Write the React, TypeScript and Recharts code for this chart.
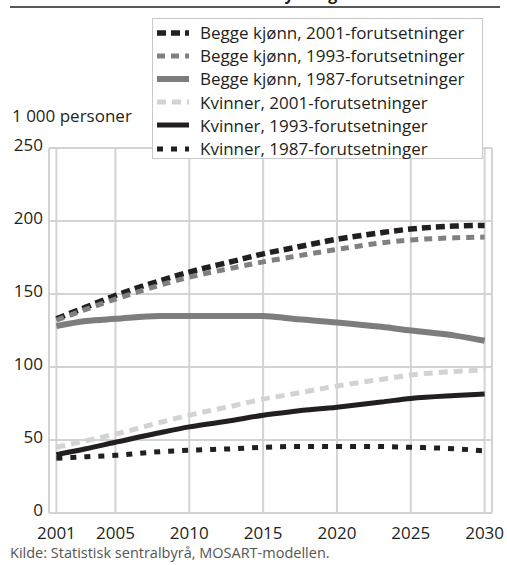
import React from "react";
import { LineChart, Line, XAxis, YAxis, CartesianGrid } from "recharts";

const years = [2001, 2003, 2005, 2008, 2010, 2013, 2015, 2017, 2020, 2023, 2025, 2028, 2030];
const begge2001 = [133, 141, 149, 159, 165, 172.5, 177.5, 181.5, 187.5, 192, 194.5, 196.5, 197];
const begge1993 = [132, 139.5, 146.5, 156, 161.5, 168, 172, 175.5, 180.5, 185, 187, 188.5, 189];
const begge1987 = [128, 131.5, 133, 135, 135, 135, 135, 133, 130.5, 127.5, 125, 121.5, 118];
const kvinner2001 = [45, 49.5, 54, 62, 67, 73.5, 78, 81.5, 87, 91.5, 94.5, 97, 98];
const kvinner1993 = [40, 44, 48.5, 55, 59, 63.5, 67, 69.5, 72.5, 76, 78.5, 80.5, 81.5];
const kvinner1987 = [37.5, 38.5, 39.5, 42, 43, 44, 45, 45.5, 45.5, 45.5, 45, 44, 42.5];

const xTicks = [2001, 2005, 2010, 2015, 2020, 2025, 2030];
const yTicks = [0, 50, 100, 150, 200, 250];

const seriesNames = [
  "Begge kjønn, 2001-forutsetninger",
  "Begge kjønn, 1993-forutsetninger",
  "Begge kjønn, 1987-forutsetninger",
  "Kvinner, 2001-forutsetninger",
  "Kvinner, 1993-forutsetninger",
  "Kvinner, 1987-forutsetninger",
];
const seriesValues = [begge2001, begge1993, begge1987, kvinner2001, kvinner1993, kvinner1987];

const styles = [
  { stroke: "#231f20", width: 5.5, dash: "9 5" },
  { stroke: "#808082", width: 5, dash: "8 6" },
  { stroke: "#7d7d80", width: 6, dash: undefined },
  { stroke: "#d3d3d5", width: 5, dash: "9 6" },
  { stroke: "#231f20", width: 5, dash: undefined },
  { stroke: "#231f20", width: 5, dash: "6 8" },
];

const keys = ["s0", "s1", "s2", "s3", "s4", "s5"];
const data = years.map((y, i) => {
  const row: any = { year: y };
  keys.forEach((k, j) => (row[k] = seriesValues[j][i]));
  return row;
});

const FONT = "'Open Sans', 'Noto Sans', sans-serif";
const TEXT = "#231f20";
const GRID = "#d2d3d5";

export default function App() {
  return (
    <div style={{ position: "absolute", left: 0, top: 0, width: 507, height: 565, background: "#fff", fontFamily: FONT, overflow: "hidden" }}>
      <svg width={507} height={20} style={{ position: "absolute", left: 0, top: 0 }}>
        <text x={253} y={0} textAnchor="middle" fontWeight="bold" fontSize={16} fill={TEXT} fontFamily={FONT}>
          Yrkesaktive etter yrkesgrad
        </text>
        <line x1={10} x2={500} y1={7} y2={7} stroke={TEXT} strokeWidth={1.5} />
      </svg>
      <div style={{ position: "absolute", left: 12, top: 105, fontSize: 17, color: TEXT, lineHeight: "22px" }}>1 000 personer</div>
      <div style={{ position: "absolute", left: 0, top: 0 }}>
        <LineChart width={507} height={565} data={data} margin={{ top: 148, right: 15, bottom: 22, left: 0 }}>
          <CartesianGrid stroke={GRID} strokeWidth={2} />
          <XAxis
            dataKey="year"
            type="number"
            domain={[2000.5, 2030.5]}
            ticks={xTicks}
            tickLine={false}
            axisLine={{ stroke: GRID, strokeWidth: 2 }}
            tick={{ fill: TEXT, fontSize: 17, fontFamily: FONT }}
            tickSize={0}
            tickMargin={14}
            height={30}
            interval={0}
          />
          <YAxis
            domain={[0, 250]}
            ticks={yTicks}
            tickLine={false}
            axisLine={{ stroke: GRID, strokeWidth: 2 }}
            tick={{ fill: TEXT, fontSize: 17, fontFamily: FONT, dy: -3 }}
            tickSize={0}
            tickMargin={6}
            width={49}
            interval={0}
          />
          {keys.map((k, j) => (
            <Line
              key={k}
              dataKey={k}
              type="monotone"
              stroke={styles[j].stroke}
              strokeWidth={styles[j].width}
              strokeDasharray={styles[j].dash}
              dot={false}
              activeDot={false}
              isAnimationActive={false}
            />
          ))}
        </LineChart>
      </div>
      <div
        style={{
          position: "absolute",
          left: 152,
          top: 18,
          width: 331,
          height: 141,
          background: "#fff",
          border: "1.5px solid #c9c9cb",
          boxSizing: "border-box",
        }}
      >
        {seriesNames.map((name, j) => (
          <div key={name} style={{ position: "absolute", left: 0, top: 2 + j * 23.2, height: 23, display: "flex", alignItems: "center" }}>
            <svg width={40} height={12} style={{ marginLeft: 3 }}>
              <line
                x1={1}
                x2={33}
                y1={6}
                y2={6}
                stroke={styles[j].stroke}
                strokeWidth={styles[j].width}
                strokeDasharray={styles[j].dash}
              />
            </svg>
            <span style={{ marginLeft: 4, fontSize: 17, color: TEXT, whiteSpace: "nowrap" }}>{name}</span>
          </div>
        ))}
      </div>
      <div style={{ position: "absolute", left: 10, top: 543, fontSize: 14.5, color: "#555", whiteSpace: "nowrap" }}>
        Kilde: Statistisk sentralbyrå, MOSART-modellen.
      </div>
    </div>
  );
}
